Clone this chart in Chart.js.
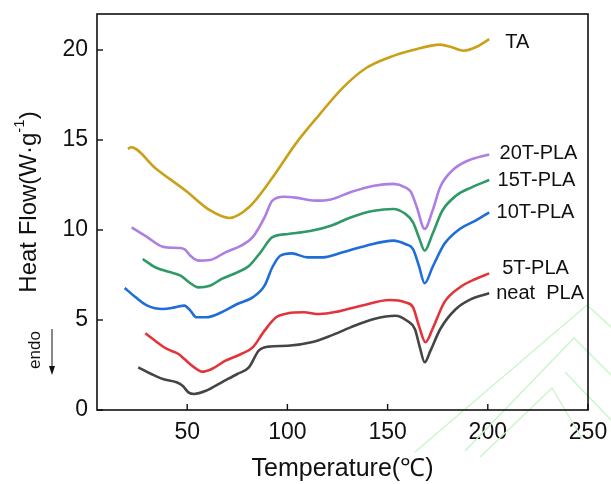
<!DOCTYPE html>
<html>
<head>
<meta charset="utf-8">
<script src="https://cdn.jsdelivr.net/npm/chart.js@4.4.1/dist/chart.umd.min.js"></script>
<style>
html,body{margin:0;padding:0;background:#fff;}
#wrap{width:611px;height:484px;position:relative;}
</style>
</head>
<body>
<div id="wrap"><canvas id="c" width="611" height="484"></canvas></div>
<script>
// ---- data ----
const seriesNames = ["TA", "20T-PLA", "15T-PLA", "10T-PLA", "5T-PLA", "neat  PLA"];
const xTicks = [50, 100, 150, 200, 250];
const yTicks = [0, 5, 10, 15, 20];

const taX = [20.4, 22.0, 34.0, 49.6, 61.3, 71.0, 80.8, 92.5, 104.2, 115.9, 127.6, 139.3, 151.0, 162.7, 176.3, 182.0, 188.0, 193.9, 200.7];
const taY = [14.5, 14.6, 13.45, 12.15, 11.1, 10.67, 11.26, 12.9, 14.8, 16.4, 17.9, 19.0, 19.6, 20.0, 20.3, 20.15, 19.96, 20.15, 20.6];

const t20X = [22.3, 30.1, 37.9, 45.7, 48.6, 51.6, 55.5, 61.3, 69.1, 76.9, 82.7, 88.6, 92.5, 98.3, 104.2, 113.9, 121.7, 131.5, 143.2, 152.9, 158.8, 161.7, 164.6, 168.5, 172.4, 176.3, 182.2, 190.0, 200.7];
const t20Y = [10.15, 9.6, 9.07, 9.0, 8.94, 8.57, 8.3, 8.33, 8.76, 9.13, 9.6, 10.7, 11.63, 11.85, 11.8, 11.63, 11.7, 12.1, 12.46, 12.56, 12.37, 12.1, 11.26, 10.06, 11.07, 12.4, 13.3, 13.85, 14.2];

const t15X = [27.8, 34.0, 41.8, 46.7, 51.6, 55.5, 61.3, 67.2, 75.0, 80.8, 86.6, 92.5, 100.3, 112.0, 121.7, 131.5, 143.2, 152.9, 158.8, 162.7, 165.6, 168.5, 172.4, 177.3, 184.1, 191.9, 200.7];
const t15Y = [8.39, 7.93, 7.65, 7.46, 7.04, 6.81, 6.9, 7.28, 7.65, 8.0, 8.76, 9.6, 9.78, 9.96, 10.24, 10.7, 11.07, 11.17, 10.9, 10.43, 9.6, 8.85, 9.78, 11.07, 11.9, 12.37, 12.78];

const t10X = [18.8, 24.3, 30.1, 37.9, 43.8, 48.6, 51.6, 54.5, 59.4, 67.2, 75.0, 82.7, 88.6, 92.5, 96.4, 102.2, 110.0, 117.8, 127.6, 139.3, 152.9, 158.8, 162.7, 165.6, 168.5, 172.4, 178.3, 186.0, 193.9, 200.7];
const t10Y = [6.78, 6.26, 5.8, 5.61, 5.7, 5.8, 5.52, 5.15, 5.15, 5.43, 5.89, 6.26, 6.91, 7.93, 8.57, 8.7, 8.48, 8.48, 8.76, 9.13, 9.41, 9.22, 8.94, 8.02, 7.04, 7.93, 9.22, 10.06, 10.52, 10.98];

const t5X = [29.1, 34.0, 39.9, 45.7, 48.6, 53.5, 57.4, 62.3, 69.1, 76.9, 82.7, 88.6, 94.4, 100.3, 108.1, 115.9, 125.6, 137.3, 150.9, 158.8, 162.7, 165.6, 168.9, 172.4, 178.3, 186.0, 193.9, 200.7];
const t5Y = [4.26, 3.85, 3.39, 3.11, 2.83, 2.37, 2.13, 2.28, 2.74, 3.11, 3.48, 4.41, 5.15, 5.37, 5.43, 5.33, 5.48, 5.8, 6.11, 5.98, 5.7, 4.69, 3.76, 4.5, 5.98, 6.81, 7.28, 7.59];

const neatX = [25.6, 32.1, 37.9, 44.7, 47.7, 50.6, 53.5, 59.4, 67.2, 75.0, 80.8, 85.7, 90.5, 100.3, 112.0, 121.7, 131.5, 143.2, 153.9, 159.7, 163.6, 166.1, 168.5, 171.4, 176.3, 184.1, 191.9, 200.7];
const neatY = [2.37, 2.0, 1.72, 1.54, 1.35, 0.98, 0.89, 1.07, 1.54, 2.0, 2.37, 3.3, 3.52, 3.57, 3.76, 4.13, 4.59, 5.06, 5.24, 4.96, 4.5, 3.48, 2.65, 3.3, 4.5, 5.61, 6.17, 6.48];

// where each curve-name text starts (data units)
const labelX = [208.7, 205.9, 204.9, 204.4, 207.2, 204.2];
const labelY = [20.4, 14.24, 12.74, 10.96, 7.85, 6.48];

const colors = ["#C9A017", "#AE7FE2", "#2F9A66", "#1E6DD8", "#E3343B", "#454545"];

const xs = [taX, t20X, t15X, t10X, t5X, neatX];
const ys = [taY, t20Y, t15Y, t10Y, t5Y, neatY];

function pts(X, Y){ return X.map((v,i)=>({x:v, y:Y[i]})); }

const datasets = seriesNames.map((n,i)=>({
  label: n,
  data: pts(xs[i], ys[i]),
  borderColor: colors[i],
  borderWidth: 2.6,
  pointRadius: 0,
  fill: false,
  cubicInterpolationMode: 'monotone'
}));

const FONT = "'Liberation Sans', Arial, sans-serif";

const watermark = {
  id: 'watermark',
  beforeDatasetsDraw(chart){
    const ctx = chart.ctx;
    ctx.save();
    ctx.strokeStyle = '#c8f5c8';
    ctx.lineWidth = 1.3;
    const lines = [
      [[415,452],[587,305],[611,327]],
      [[465,451],[574,338],[611,375]],
      [[480,457],[552,388],[583,440]],
      [[565,372],[611,420]]
    ];
    lines.forEach(l=>{
      ctx.beginPath(); ctx.moveTo(l[0][0], l[0][1]);
      for(let i=1;i<l.length;i++) ctx.lineTo(l[i][0], l[i][1]);
      ctx.stroke();
    });
    ctx.restore();
  }
};

const decor = {
  id: 'decor',
  afterDraw(chart){
    const {ctx, chartArea: a, scales:{x, y}} = chart;
    ctx.save();
    // frame
    ctx.strokeStyle = '#111';
    ctx.lineWidth = 1.6;
    ctx.strokeRect(a.left, a.top, a.right - a.left, a.bottom - a.top);
    // inward ticks
    ctx.lineWidth = 1.4;
    xTicks.forEach(v=>{
      const px = x.getPixelForValue(v);
      ctx.beginPath(); ctx.moveTo(px, a.bottom); ctx.lineTo(px, a.bottom - 6); ctx.stroke();
    });
    yTicks.forEach(v=>{
      const py = y.getPixelForValue(v);
      ctx.beginPath(); ctx.moveTo(a.left, py); ctx.lineTo(a.left + 6, py); ctx.stroke();
    });
    // series labels
    ctx.fillStyle = '#111';
    ctx.font = "20px " + FONT;
    ctx.textBaseline = 'middle';
    ctx.textAlign = 'left';
    seriesNames.forEach((n,i)=>{
      ctx.fillText(n, x.getPixelForValue(labelX[i]), y.getPixelForValue(labelY[i]));
    });
    // y-axis title with superscript
    ctx.save();
    ctx.translate(29, 202);
    ctx.rotate(-Math.PI/2);
    ctx.textBaseline = 'middle';
    const p1 = 'Heat Flow(W·g', p2 = '-1', p3 = ')';
    ctx.font = "24px " + FONT; const w1 = ctx.measureText(p1).width;
    ctx.font = "15px " + FONT; const w2 = ctx.measureText(p2).width;
    ctx.font = "24px " + FONT; const w3 = ctx.measureText(p3).width;
    let sx = -(w1 + w2 + w3)/2;
    ctx.textAlign = 'left';
    ctx.fillText(p1, sx, 0);
    ctx.font = "15px " + FONT; ctx.fillText(p2, sx + w1, -9);
    ctx.font = "24px " + FONT; ctx.fillText(p3, sx + w1 + w2, 0);
    ctx.restore();
    // endo marker
    ctx.save();
    ctx.translate(35, 350);
    ctx.rotate(-Math.PI/2);
    ctx.font = "17px " + FONT;
    ctx.textAlign = 'center';
    ctx.textBaseline = 'middle';
    ctx.fillText('endo', 0, 0);
    ctx.restore();
    ctx.strokeStyle = '#111';
    ctx.lineWidth = 1;
    ctx.beginPath(); ctx.moveTo(52, 329); ctx.lineTo(52, 370); ctx.stroke();
    ctx.beginPath(); ctx.moveTo(49, 366); ctx.lineTo(52, 375); ctx.lineTo(55, 366); ctx.closePath(); ctx.fill();
    ctx.restore();
  }
};

function noPad(s){ s.paddingLeft = 0; s.paddingRight = 0; s.paddingTop = 0; s.paddingBottom = 0; }

new Chart(document.getElementById('c'), {
  type: 'line',
  data: { datasets },
  plugins: [watermark, decor],
  options: {
    responsive: false,
    animation: false,
    layout: { padding: { top: 14, right: 23, left: 0, bottom: 0 } },
    plugins: { legend: { display: false }, tooltip: { enabled: false } },
    scales: {
      x: {
        type: 'linear', min: 5, max: 250,
        afterBuildTicks(s){ s.ticks = xTicks.map(v=>({value:v})); },
        afterFit(s){ s.height = 74; noPad(s); },
        grid: { display: false, drawTicks: false },
        border: { display: false },
        ticks: { color: '#111', padding: 9, font: { size: 23, family: FONT } },
        title: { display: true, text: 'Temperature(℃)', color: '#111', padding: { top: 1, bottom: 0 }, font: { size: 25, family: FONT } }
      },
      y: {
        type: 'linear', min: 0, max: 22,
        afterBuildTicks(s){ s.ticks = yTicks.map(v=>({value:v})); },
        afterFit(s){ s.width = 97; noPad(s); },
        grid: { display: false, drawTicks: false },
        border: { display: false },
        ticks: { color: '#111', padding: 9, font: { size: 23, family: FONT } }
      }
    }
  }
});
</script>
</body>
</html>
